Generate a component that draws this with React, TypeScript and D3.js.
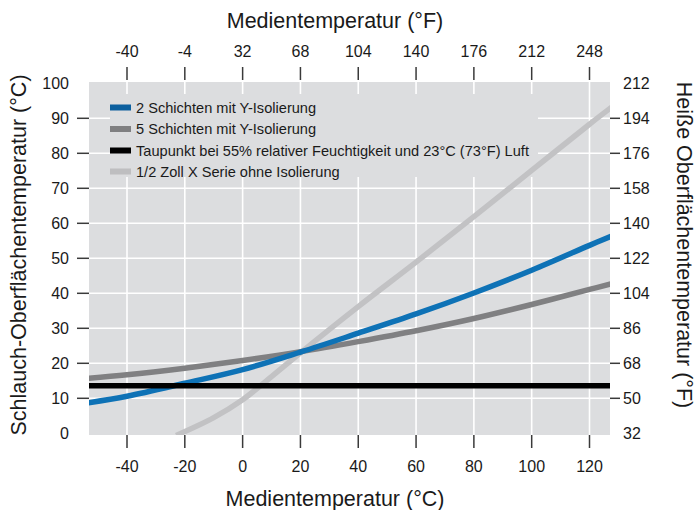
import React from "react";
import * as d3 from "d3";

const xTicksC = [-40, -20, 0, 20, 40, 60, 80, 100, 120];
const xTicksF = ["-40", "-4", "32", "68", "104", "140", "176", "212", "248"];
const yTicksC = [0, 10, 20, 30, 40, 50, 60, 70, 80, 90, 100];
const yTicksF = ["32", "50", "68", "86", "104", "122", "140", "158", "176", "194", "212"];

const twoLayer: [number, number][] = [
  [-53.5, 8.7], [-40, 10.6], [-20, 14.3], [0, 18.2], [20, 23.2], [40, 28.6],
  [60, 34.1], [80, 40.1], [100, 46.6], [120, 53.7], [128, 56.5],
];
const fiveLayer: [number, number][] = [
  [-53.5, 15.7], [-40, 16.7], [-20, 18.6], [0, 20.8], [20, 23.3], [40, 26.2],
  [60, 29.3], [80, 32.8], [100, 36.8], [120, 41.1], [128, 42.8],
];
const dewPoint: [number, number][] = [[-53.5, 13.6], [128, 13.6]];
const noInsulation: [number, number][] = [
  [-23, -0.6], [-10, 4.5], [0, 9.6], [10, 16.2], [20, 23.0], [40, 36.2],
  [60, 48.9], [80, 61.9], [100, 75.1], [120, 88.3], [128, 93.4],
];

const seriesNames = [
  "2 Schichten mit Y-Isolierung",
  "5 Schichten mit Y-Isolierung",
  "Taupunkt bei 55% relativer Feuchtigkeit und 23°C (73°F) Luft",
  "1/2 Zoll X Serie ohne Isolierung",
];
const lineColors = ["#0e72b6", "#808082", "#000000", "#c2c2c4"];
const swatchColors = ["#0c5f9e", "#7f7f81", "#000000", "#bebec0"];

export default function App() {
  const W = 695, H = 510;
  const left = 89, right = 610, top = 82, bottom = 435;
  const x = d3.scaleLinear().domain([-40, 120]).range([127, 589.5]);
  const y = d3.scaleLinear().domain([0, 100]).range([433.3, 83.3]);
  const line = d3.line<[number, number]>().x(d => x(d[0])).y(d => y(d[1])).curve(d3.curveCatmullRom.alpha(0.5));
  const font = "'Liberation Sans', Arial, Helvetica, sans-serif";
  const data = [twoLayer, fiveLayer, dewPoint, noInsulation];
  const drawOrder = [3, 1, 0, 2];
  const tickColor = "#3a3a3a";
  const cx = 335;
  const legendRowsY = [107.5, 129, 150.5, 171.5];

  return (
    <svg width={W} height={H} style={{ position: "absolute", left: 0, top: 0, background: "#fff" }} fontFamily={font}>
      <defs>
        <clipPath id="plotClip">
          <rect x={left} y={top} width={right - left} height={bottom - top} />
        </clipPath>
      </defs>
      <rect x={left} y={top} width={right - left} height={bottom - top} fill="#dcdddf" />
      {xTicksC.map(t => (
        <line key={"gx" + t} x1={x(t)} x2={x(t)} y1={top} y2={bottom} stroke="#fff" strokeWidth={1.6} />
      ))}
      {yTicksC.slice(1, -1).map(t => (
        <line key={"gy" + t} x1={left} x2={right} y1={y(t)} y2={y(t)} stroke="#fff" strokeWidth={1.6} />
      ))}
      <rect x={110} y={94} width={428} height={83} fill="#dcdddf" />
      <g clipPath="url(#plotClip)">
        {drawOrder.map(i => (
          <path key={"l" + i} d={line(data[i]) || ""} fill="none" stroke={lineColors[i]} strokeWidth={5.5} />
        ))}
      </g>
      {seriesNames.map((n, i) => (
        <g key={"lg" + i}>
          <rect x={110} y={legendRowsY[i] - 3} width={21} height={6} fill={swatchColors[i]} />
          <text x={136} y={legendRowsY[i]} dy="0.36em" fontSize={14.6} fill="#1a1a1a">{n}</text>
        </g>
      ))}
      {xTicksC.map(t => (
        <g key={"bx" + t}>
          <line x1={x(t)} x2={x(t)} y1={bottom} y2={448} stroke={tickColor} strokeWidth={1.5} />
          <text x={x(t)} y={471.5} textAnchor="middle" fontSize={16} fill="#1a1a1a">{t}</text>
        </g>
      ))}
      {xTicksC.map((t, i) => (
        <g key={"tx" + t}>
          <line x1={x(t)} x2={x(t)} y1={67} y2={80} stroke={tickColor} strokeWidth={1.5} />
          <text x={x(t)} y={56.5} textAnchor="middle" fontSize={16} fill="#1a1a1a">{xTicksF[i]}</text>
        </g>
      ))}
      {yTicksC.map((t, i) => (
        <g key={"ly" + t}>
          {i > 0 && i < yTicksC.length - 1 && (
            <line x1={77} x2={left} y1={y(t)} y2={y(t)} stroke={tickColor} strokeWidth={1.5} />
          )}
          <text x={69} y={y(t)} dy="0.36em" textAnchor="end" fontSize={16} fill="#1a1a1a">{t}</text>
        </g>
      ))}
      {yTicksC.map((t, i) => (
        <g key={"ry" + t}>
          {i > 0 && i < yTicksC.length - 1 && (
            <line x1={right} x2={620} y1={y(t)} y2={y(t)} stroke={tickColor} strokeWidth={1.5} />
          )}
          <text x={623} y={y(t)} dy="0.36em" textAnchor="start" fontSize={16} fill="#1a1a1a">{yTicksF[i]}</text>
        </g>
      ))}
      <text x={cx} y={28} textAnchor="middle" fontSize={21.5} fill="#1a1a1a">Medientemperatur (°F)</text>
      <text x={cx} y={506} textAnchor="middle" fontSize={21.5} fill="#1a1a1a">Medientemperatur (°C)</text>
      <text transform="translate(26,255) rotate(-90)" textAnchor="middle" fontSize={21.5} fill="#1a1a1a">
        Schlauch-Oberflächentemperatur (°C)
      </text>
      <text transform="translate(677,245) rotate(90)" textAnchor="middle" fontSize={21.5} fill="#1a1a1a">
        Heiße Oberflächentemperatur (°F)
      </text>
    </svg>
  );
}
